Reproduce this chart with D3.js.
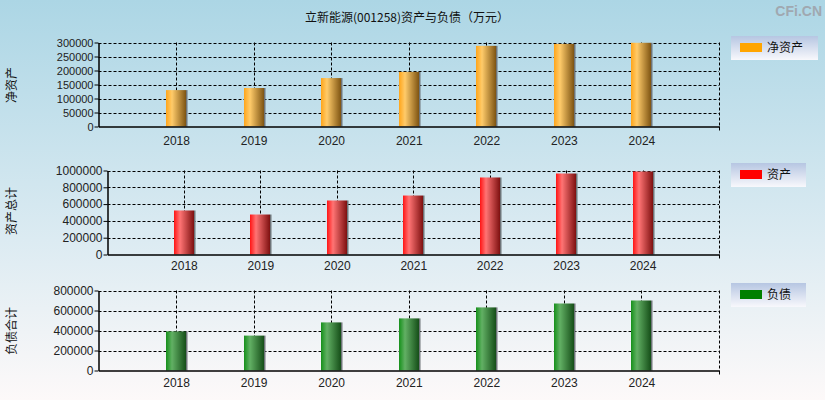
<!DOCTYPE html>
<html>
<head>
<meta charset="utf-8">
<script src="https://cdn.jsdelivr.net/npm/d3@7"></script>
<style>
  body { margin: 0; padding: 0; }
  svg { display: block; }
</style>
</head>
<body>
<div id="chart"></div>
<script>
// data (万元)
var years = ["2018", "2019", "2020", "2021", "2022", "2023", "2024"]
var netAssets = [130000, 137500, 173000, 195000, 288000, 295000, 299000]
var totalAssets = [524000, 476000, 643000, 702000, 917000, 964000, 988000]
var totalLiabilities = [391000, 349000, 481000, 521000, 631000, 670000, 700000]
var netTicks = [0, 50000, 100000, 150000, 200000, 250000, 300000]
var assetTicks = [0, 200000, 400000, 600000, 800000, 1000000]
var liabTicks = [0, 200000, 400000, 600000, 800000]

var width = 825,
    height = 400

var svg = d3.select("#chart")
  .append("svg")
    .attr("width", width)
    .attr("height", height)

var defs = svg.append("defs")

// page background
var bg = defs.append("linearGradient").attr("id", "bg")
  .attr("x1", 0).attr("y1", 0).attr("x2", 0).attr("y2", 1)
bg.append("stop").attr("offset", 0).attr("stop-color", "#acd6e5")
bg.append("stop").attr("offset", 0.6).attr("stop-color", "#dcebf2")
bg.append("stop").attr("offset", 1).attr("stop-color", "#fdf9f9")

var lg = defs.append("linearGradient").attr("id", "legbg")
  .attr("x1", 0).attr("y1", 0).attr("x2", 0).attr("y2", 1)
lg.append("stop").attr("offset", 0).attr("stop-color", "#b6c6e2")
lg.append("stop").attr("offset", 1).attr("stop-color", "#f8f8fc")

function barGradient(id, c0, c1, c2) {
  var g = defs.append("linearGradient").attr("id", id)
    .attr("x1", 0).attr("y1", 0).attr("x2", 1).attr("y2", 0)
  g.append("stop").attr("offset", 0).attr("stop-color", c0)
  g.append("stop").attr("offset", 0.3).attr("stop-color", c1)
  g.append("stop").attr("offset", 1).attr("stop-color", c2)
}
barGradient("gOrange", "#ffa51a", "#ffcb6a", "#7e5412")
barGradient("gRed", "#ff1414", "#ff7474", "#7e1010")
barGradient("gGreen", "#15901a", "#62b064", "#154e18")

svg.append("rect")
  .attr("width", width).attr("height", height)
  .attr("fill", "url(#bg)")

// title + watermark
svg.append("text")
  .attr("x", 407).attr("y", 22)
  .attr("text-anchor", "middle")
  .style("font-family", "'Noto Sans CJK SC', sans-serif")
  .style("font-size", "12px")
  .attr("fill", "#111")
  .text("立新能源(001258)资产与负债（万元）")

svg.append("text")
  .attr("x", 822).attr("y", 16)
  .attr("text-anchor", "end")
  .style("font-family", "'Liberation Sans', Arial, sans-serif")
  .style("font-size", "14px")
  .style("font-weight", "bold")
  .attr("fill", "#a0a8b0")
  .text("CFi.CN")

var panels = [
  { values: netAssets, ticks: netTicks, max: 300000, title: "净资产", legend: "净资产",
    swatch: "#ffa500", grad: "gOrange", left: 98.5, right: 719, top: 42.5, bottom: 126.5,
    fontSize: 11, labelY: 85, legTop: 36, legW: 87, yearDy: 18 },
  { values: totalAssets, ticks: assetTicks, max: 1000000, title: "资产总计", legend: "资产",
    swatch: "#ff0000", grad: "gRed", left: 107.5, right: 719, top: 170.5, bottom: 254.5,
    fontSize: 12, labelY: 211, legTop: 163, legW: 75, yearDy: 15.5 },
  { values: totalLiabilities, ticks: liabTicks, max: 800000, title: "负债合计", legend: "负债",
    swatch: "#008000", grad: "gGreen", left: 98.5, right: 719, top: 290.5, bottom: 370.5,
    fontSize: 12, labelY: 331, legTop: 283, legW: 75, yearDy: 16.5 }
]

panels.forEach(function(p) {
  var x = d3.scaleLinear()
    .domain([0, years.length + 1])
    .range([p.left, p.right])
  var y = d3.scaleLinear()
    .domain([0, p.max])
    .range([p.bottom, p.top])

  var g = svg.append("g")

  // horizontal dashed grid
  g.selectAll(".hgrid")
    .data(p.ticks.filter(function(d) { return d > 0 }))
    .enter().append("line")
      .attr("x1", p.left).attr("x2", p.right)
      .attr("y1", function(d) { return Math.round(y(d)) + 0.5 })
      .attr("y2", function(d) { return Math.round(y(d)) + 0.5 })
      .attr("stroke", "#000")
      .attr("stroke-dasharray", "3,2")

  // vertical dashed grid at each year
  g.selectAll(".vgrid")
    .data(years)
    .enter().append("line")
      .attr("x1", function(d, i) { return Math.round(x(i + 1)) + 0.5 })
      .attr("x2", function(d, i) { return Math.round(x(i + 1)) + 0.5 })
      .attr("y1", p.top).attr("y2", p.bottom)
      .attr("stroke", "#000")
      .attr("stroke-dasharray", "3,2")

  // right border
  g.append("line")
    .attr("x1", Math.round(p.right) + 0.5).attr("x2", Math.round(p.right) + 0.5)
    .attr("y1", p.top).attr("y2", p.bottom)
    .attr("stroke", "#000")
    .attr("stroke-dasharray", "3,2")
  g.append("line")
    .attr("x1", Math.round(p.right) + 0.5).attr("x2", Math.round(p.right) + 0.5)
    .attr("y1", p.bottom).attr("y2", p.bottom + 4)
    .attr("stroke", "#000")

  // bars with thin shadow on the right
  var bw = 20
  g.selectAll(".shadow")
    .data(p.values)
    .enter().append("rect")
      .attr("x", function(d, i) { return Math.round(x(i + 1) - bw / 2) + bw })
      .attr("y", function(d) { return y(d) })
      .attr("width", 1.5)
      .attr("height", function(d) { return p.bottom - y(d) })
      .attr("fill", "#6e7478")
  g.selectAll(".bar")
    .data(p.values)
    .enter().append("rect")
      .attr("x", function(d, i) { return Math.round(x(i + 1) - bw / 2) })
      .attr("y", function(d) { return y(d) })
      .attr("width", bw)
      .attr("height", function(d) { return p.bottom - y(d) })
      .attr("fill", "url(#" + p.grad + ")")

  // left axis
  var yAxis = g.append("g")
    .attr("transform", "translate(" + p.left + ",0)")
    .call(d3.axisLeft(y).tickValues(p.ticks).tickSize(4).tickSizeOuter(0).tickFormat(d3.format("d")))
  yAxis.select(".domain").attr("stroke", "#000").attr("stroke-width", 1.5)
  yAxis.selectAll("text")
    .attr("x", -5)
    .style("font-family", "'Liberation Sans', Arial, sans-serif")
    .style("font-size", p.fontSize + "px")
    .attr("fill", "#222")

  // bottom axis
  var xAxis = g.append("g")
    .attr("transform", "translate(0," + p.bottom + ")")
    .call(d3.axisBottom(x).tickValues(d3.range(1, years.length + 1)).tickSize(0).tickSizeOuter(0)
      .tickFormat(function(d) { return years[d - 1] }))
  xAxis.select(".domain").attr("stroke", "#000").attr("stroke-width", 1.5)
  xAxis.selectAll("text")
    .attr("y", p.yearDy)
    .attr("dy", null)
    .style("font-family", "'Liberation Sans', Arial, sans-serif")
    .style("font-size", "12px")
    .attr("fill", "#222")

  // y label
  svg.append("text")
    .attr("transform", "translate(16," + p.labelY + ") rotate(-90)")
    .attr("text-anchor", "middle")
    .style("font-family", "'Noto Sans CJK SC', sans-serif")
    .style("font-size", "12px")
    .attr("fill", "#111")
    .text(p.title)

  // legend
  var leg = svg.append("g").attr("transform", "translate(731," + p.legTop + ")")
  leg.append("rect")
    .attr("width", p.legW).attr("height", 24)
    .attr("fill", "url(#legbg)")
  leg.append("rect")
    .attr("x", 9).attr("y", 7)
    .attr("width", 22).attr("height", 9)
    .attr("fill", p.swatch)
  leg.append("text")
    .attr("x", 36).attr("y", 16)
    .style("font-family", "'Noto Sans CJK SC', sans-serif")
    .style("font-size", "12px")
    .attr("fill", "#111")
    .text(p.legend)
})
</script>
</body>
</html>
